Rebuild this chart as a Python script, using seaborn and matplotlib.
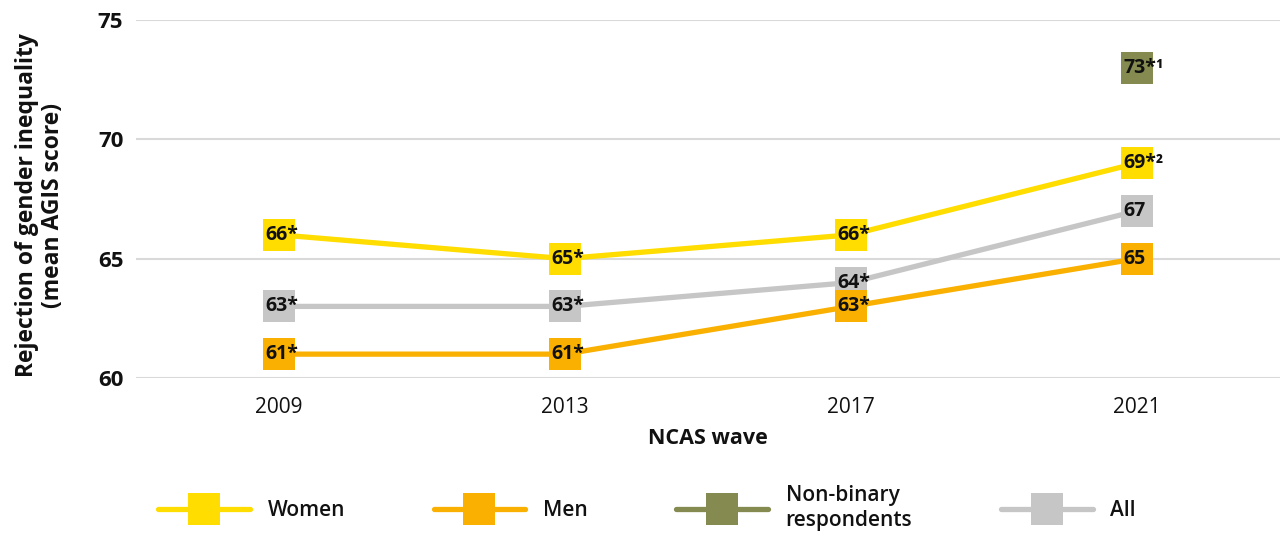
import matplotlib
matplotlib.use("Agg")
import matplotlib.pyplot as plt
from matplotlib.lines import Line2D
import pandas as pd
import seaborn as sns

waves = ["2009", "2013", "2017", "2021"]
women = [66, 65, 66, 69]
men = [61, 61, 63, 65]
all_resp = [63, 63, 64, 67]
nonbinary_wave = ["2021"]
nonbinary = [73]

women_labels = ["66*", "65*", "66*", "69*²"]
men_labels = ["61*", "61*", "63*", "65"]
all_labels = ["63*", "63*", "64*", "67"]
nonbinary_labels = ["73*¹"]

groups = ["Women", "Men", "Non-binary\nrespondents", "All"]
colors = {"Women": "#FFDD00", "Men": "#F9B000",
          "Non-binary\nrespondents": "#848A50", "All": "#C6C6C6"}

rows = []
for g, xs, ys, labs in [("All", waves, all_resp, all_labels),
                        ("Men", waves, men, men_labels),
                        ("Women", waves, women, women_labels),
                        ("Non-binary\nrespondents", nonbinary_wave, nonbinary, nonbinary_labels)]:
    for x, y, l in zip(xs, ys, labs):
        rows.append({"group": g, "wave": x, "score": y, "label": l})
df = pd.DataFrame(rows)
df["pos"] = df["wave"].map({w: i for i, w in enumerate(waves)})

sns.set_style("white")
plt.rcParams["font.family"] = ["Open Sans", "DejaVu Sans"]
plt.rcParams["text.color"] = "#111111"
plt.rcParams["axes.labelcolor"] = "#111111"
plt.rcParams["xtick.color"] = "#111111"
plt.rcParams["ytick.color"] = "#111111"

fig = plt.figure(figsize=(12.81, 5.33), dpi=100)
ax = fig.add_axes([0.106, 0.2908, 0.893, 0.6717])

for g in ["All", "Men", "Women", "Non-binary\nrespondents"]:
    sub = df[df["group"] == g]
    sns.lineplot(data=sub, x="pos", y="score", color=colors[g], linewidth=3.8,
                 marker="s", markersize=22.5, markeredgewidth=0, ax=ax, sort=False)
    # value labels sit inside the square, spilling to the right
    for _, r in sub.iterrows():
        ax.annotate(r["label"], (r["pos"], r["score"]), xytext=(-9.5, 0),
                    textcoords="offset points", ha="left", va="center",
                    fontsize=14, fontweight="bold", zorder=5)

ax.set_xlim(-0.5, 3.5)
ax.set_ylim(60, 75)
ax.set_yticks([60, 65, 70, 75])
ax.set_xticks(range(len(waves)))
ax.set_xticklabels(waves, fontsize=15)
ax.tick_params(axis="y", labelsize=16, pad=9, length=0)
ax.tick_params(axis="x", pad=14, length=0)
for t in ax.get_yticklabels():
    t.set_fontweight("bold")
ax.grid(axis="y", color="#D9D9D9", linewidth=1.5)
ax.grid(axis="x", visible=False)
ax.set_axisbelow(True)
sns.despine(ax=ax, left=True, bottom=True)

ax.set_xlabel("NCAS wave", fontsize=15.5, fontweight="bold", labelpad=7)
ax.set_ylabel("")
fig.text(0.031, 0.615, "Rejection of gender inequality\n(mean AGIS score)",
         rotation=90, ha="center", va="center", fontsize=16.5,
         fontweight="bold", linespacing=1.1, multialignment="center")

handles = [Line2D([0], [0], color=colors[g], linewidth=3.8, marker="s",
                  markersize=22.5, markeredgewidth=0) for g in groups]
fig.legend(handles, groups, loc="center left", bbox_to_anchor=(0.117, 0.047),
           ncol=4, frameon=False, handlelength=4.4,
           handletextpad=0.85, columnspacing=4.25, borderaxespad=0,
           prop={"family": ["Open Sans"], "weight": "semibold", "size": 15})

fig.savefig("out.png", dpi=100)
